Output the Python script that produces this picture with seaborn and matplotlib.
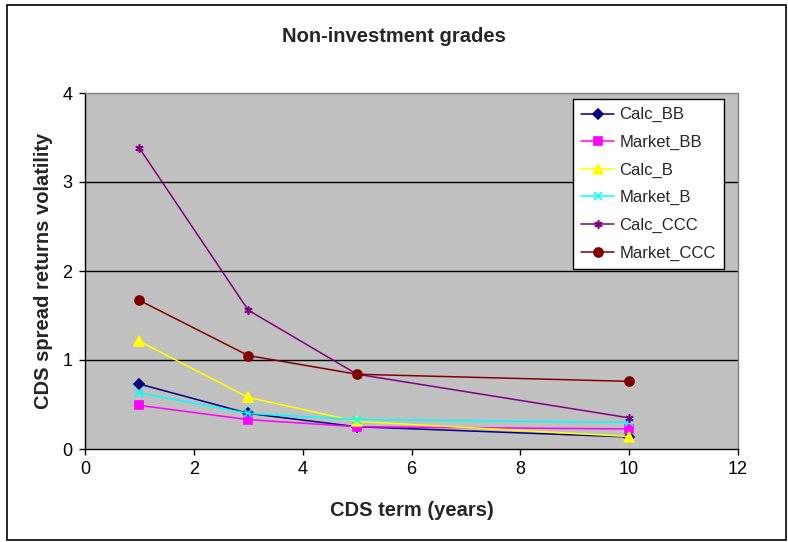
import matplotlib
matplotlib.use("Agg")
import matplotlib.pyplot as plt
import seaborn as sns
import pandas as pd
from matplotlib.patches import Rectangle

terms = [1, 3, 5, 10]
calc_bb = [0.73, 0.40, 0.25, 0.135]
market_bb = [0.49, 0.33, 0.25, 0.225]
calc_b = [1.21, 0.58, 0.31, 0.14]
market_b = [0.63, 0.40, 0.33, 0.30]
calc_ccc = [3.38, 1.56, 0.84, 0.35]
market_ccc = [1.67, 1.05, 0.84, 0.76]

series_names = ["Calc_BB", "Market_BB", "Calc_B", "Market_B", "Calc_CCC", "Market_CCC"]
series_vals = [calc_bb, market_bb, calc_b, market_b, calc_ccc, market_ccc]
colors = ["#000080", "#FF00FF", "#FFFF00", "#00FFFF", "#800080", "#800000"]
markers = ["D", "s", "^", "x", (6, 2, 0), "o"]
msizes = [5, 6, 7.5, 5.5, 6, 6.5]

sns.set_theme(style="white")
plt.rcParams['font.family'] = ['Liberation Sans', 'DejaVu Sans']

fig = plt.figure(figsize=(7.88, 5.42), dpi=100)
ax = fig.add_axes([85/788, 1 - 449/542, (738-85)/788, (449-93)/542])
ax.set_facecolor("#C0C0C0")

for name, vals, c, m, ms in zip(series_names, series_vals, colors, markers, msizes):
    df = pd.DataFrame({"term": terms, "val": vals})
    sns.lineplot(data=df, x="term", y="val", ax=ax, color=c, marker=m, markersize=ms,
                 markeredgecolor=c, markerfacecolor=c, markeredgewidth=1.2,
                 linewidth=1.1, label=name)

ax.set_xlim(0, 12)
ax.set_ylim(0, 4)
ax.set_xticks([0, 2, 4, 6, 8, 10, 12])
ax.set_yticks([0, 1, 2, 3, 4])
for yv in [1, 2, 3]:
    ax.axhline(yv, color="black", linewidth=1, zorder=0.5)
ax.tick_params(axis="both", which="both", direction="out", length=4, width=1,
               colors="black", labelsize=13, bottom=True, left=True, pad=5)
for s in ["left", "bottom"]:
    ax.spines[s].set_color("black")
    ax.spines[s].set_linewidth(1)
for s in ["top", "right"]:
    ax.spines[s].set_color("#808080")
    ax.spines[s].set_linewidth(1)

ax.set_xlabel("CDS term (years)", fontsize=14.5, fontweight="bold", labelpad=16)
ax.set_ylabel("CDS spread returns volatility", fontsize=14.5, fontweight="bold", labelpad=7)
fig.text(0.5, 1 - 36/542, "Non-investment grades", ha="center", va="center",
         fontsize=14.5, fontweight="bold")

leg = ax.legend(loc="upper right", bbox_to_anchor=((724-85)/653, (449-99)/356),
                frameon=True, fancybox=False, framealpha=1, edgecolor="black",
                fontsize=12, handlelength=2.0, borderpad=0.5, labelspacing=0.75,
                handletextpad=0.3, borderaxespad=0)
leg.get_frame().set_linewidth(1)

fig.patches.append(Rectangle((7/788, 2/542), 779/788, 535/542, transform=fig.transFigure,
                             fill=False, edgecolor="black", linewidth=1.2))

fig.savefig("out.png", dpi=100)
